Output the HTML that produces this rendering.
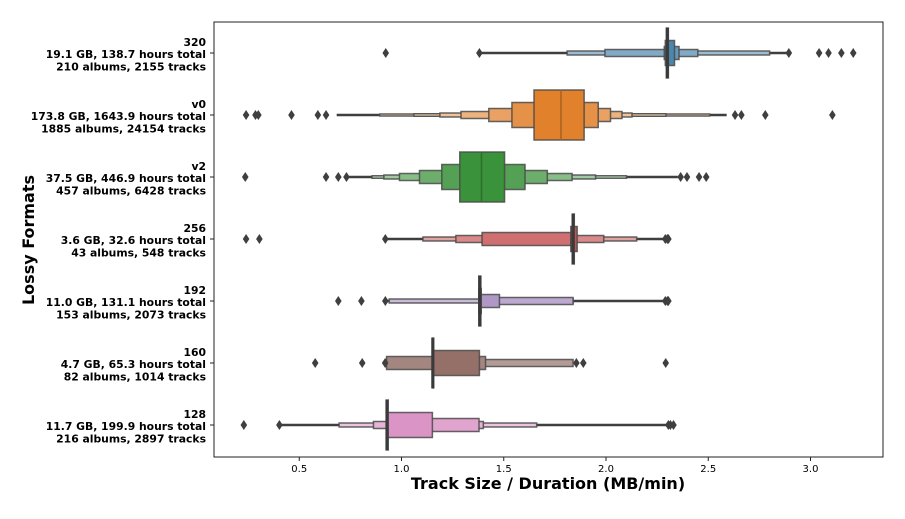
<!DOCTYPE html>
<html><head><meta charset="utf-8"><style>
body{margin:0;background:#fff;}
svg text{font-family:"DejaVu Sans","Liberation Sans",sans-serif;}
</style></head><body>
<svg id="chart" width="905" height="514" viewBox="0 0 905 514">
<rect x="0" y="0" width="905" height="514" fill="#fff"/>
<g id="marks"></g>
<rect x="214" y="22" width="669" height="435" fill="none" stroke="#222" stroke-width="1"/>
<g id="xaxis"></g>
<g id="yaxis"></g>
<text x="548" y="489" text-anchor="middle" font-size="16" font-weight="bold" fill="#000">Track Size / Duration (MB/min)</text>
<text transform="translate(34,240) rotate(-90)" text-anchor="middle" font-size="16" font-weight="bold" fill="#000">Lossy Formats</text>
</svg>
<script>
const categories = ["320","v0","v2","256","192","160","128"];
const labelLine2 = ["19.1 GB, 138.7 hours total","173.8 GB, 1643.9 hours total","37.5 GB, 446.9 hours total","3.6 GB, 32.6 hours total","11.0 GB, 131.1 hours total","4.7 GB, 65.3 hours total","11.7 GB, 199.9 hours total"];
const labelLine3 = ["210 albums, 2155 tracks","1885 albums, 24154 tracks","457 albums, 6428 tracks","43 albums, 548 tracks","153 albums, 2073 tracks","82 albums, 1014 tracks","216 albums, 2897 tracks"];
const medians = [2.30, 1.78, 1.391, 1.839, 1.383, 1.153, 0.929];
// letter-value levels, inner to outer
const levelLo = [
  [2.295,2.29,2.285,1.995,1.81],
  [1.648,1.540,1.427,1.291,1.188,1.061,0.894],
  [1.285,1.197,1.088,0.990,0.914,0.856],
  [1.835,1.828,1.394,1.266,1.105],
  [1.378,1.378,1.378,1.378,0.94],
  [1.150,1.153,0.927,0.927],
  [0.925,0.929,0.929,0.863,0.695]
];
const levelHi = [
  [2.305,2.335,2.357,2.449,2.80],
  [1.893,1.962,2.022,2.078,2.127,2.293,2.507],
  [1.504,1.604,1.713,1.834,1.949,2.10],
  [1.845,1.859,1.828,1.989,2.15],
  [1.388,1.39,1.479,1.839,1.839],
  [1.156,1.381,1.411,1.839],
  [0.935,1.151,1.379,1.40,1.661]
];
const whiskerLo = [1.381,0.683,0.737,0.921,0.921,0.92,0.403];
const whiskerHi = [2.894,2.59,2.351,2.305,2.305,1.839,2.305];
const outliers = [
  [0.923,1.381,2.894,3.042,3.088,3.151,3.209],
  [0.240,0.286,0.300,0.462,0.591,0.631,2.631,2.662,2.779,3.107],
  [0.236,0.631,0.691,0.731,2.365,2.396,2.455,2.49],
  [0.240,0.305,0.921,2.29,2.30,2.305],
  [0.691,0.804,0.921,2.29,2.30,2.305],
  [0.578,0.808,0.92,1.855,1.889,2.292],
  [0.229,0.403,2.305,2.315,2.33]
];
const xTicks = [0.5,1.0,1.5,2.0,2.5,3.0];
const xTickLabels = ["0.5","1.0","1.5","2.0","2.5","3.0"];

// styling (not data)
const baseColors = ["#3274a1","#e1812c","#3a923a","#c03d3e","#9372b2","#845b53","#d684bd"];
const levelHeights = [50,25,13,7,4,2.5,2];

const NS = "http://www.w3.org/2000/svg";
const xScale = v => 197 + v * 204.5;
const yScale = i => 53 + i * 62;
function mix(hex, t){
  const r=parseInt(hex.slice(1,3),16),g=parseInt(hex.slice(3,5),16),b=parseInt(hex.slice(5,7),16);
  const f=c=>Math.round(c+(255-c)*t);
  return `rgb(${f(r)},${f(g)},${f(b)})`;
}
function darken(hex,t){
  const r=parseInt(hex.slice(1,3),16),g=parseInt(hex.slice(3,5),16),b=parseInt(hex.slice(5,7),16);
  const f=c=>Math.round(c*(1-t));
  return `rgb(${f(r)},${f(g)},${f(b)})`;
}
function mk(tag, attrs, parent){
  const e=document.createElementNS(NS,tag);
  for(const k in attrs) e.setAttribute(k,attrs[k]);
  parent.appendChild(e); return e;
}
const marks=document.getElementById('marks');
categories.forEach((cat,i)=>{
  const cy=yScale(i);
  const g=mk('g',{},marks);
  
  
  const wl=mk('line',{x1:xScale(whiskerLo[i]),x2:xScale(whiskerHi[i]),y1:cy,y2:cy,stroke:'#3f3f3f','stroke-width':2.5},g);
  
  
  const lo=levelLo[i], hi=levelHi[i];
  for(let k=lo.length-1;k>=0;k--){
    const h=levelHeights[k];
    const x0=xScale(lo[k]), x1=xScale(hi[k]);
    const r=mk('rect',{x:x0,y:cy-h/2,width:Math.max(x1-x0,1.5),height:h,
      fill:mix(baseColors[i],Math.min(k*0.13,0.65)),stroke:'#4a4a4a','stroke-opacity':0.85,'stroke-width':1.5},g);
    
    
  }
  const mh=levelHeights[0];
  const ml=mk('line',{x1:xScale(medians[i]),x2:xScale(medians[i]),y1:cy-mh/2,y2:cy+mh/2,
    stroke:(i===1||i===2)?darken(baseColors[i],0.25):'#3a3a3a','stroke-width':(i===1||i===2)?1.5:3},g);
  
  
  outliers[i].forEach((v,j)=>{
    const x=xScale(v);
    const p=mk('path',{d:`M${x} ${cy-5} L${x+3.3} ${cy} L${x} ${cy+5} L${x-3.3} ${cy} Z`,fill:'#3f3f3f'},g);
    
    
  });
});
const xa=document.getElementById('xaxis');
xTicks.forEach((v,j)=>{
  const x=xScale(v);
  const t=mk('line',{x1:x,x2:x,y1:457,y2:461,stroke:'#222','stroke-width':1},xa);
  
  
  const l=mk('text',{x:x,y:472,'text-anchor':'middle','font-size':10,fill:'#000'},xa);
  l.textContent=xTickLabels[j];
  
  
});
const ya=document.getElementById('yaxis');
categories.forEach((cat,i)=>{
  const cy=yScale(i);
  const t=mk('line',{x1:210,x2:214,y1:cy,y2:cy,stroke:'#222','stroke-width':1},ya);
  
  
  const lines=[cat,labelLine2[i]+' ',labelLine3[i]];
  lines.forEach((s,k)=>{
    const l=mk('text',{x:206,y:cy-7+k*12.2,'text-anchor':'end','font-size':10.8,'font-weight':'bold',fill:'#000','xml:space':'preserve'},ya);
    l.textContent=s;
    
    
  });
});
</script>
</body></html>
